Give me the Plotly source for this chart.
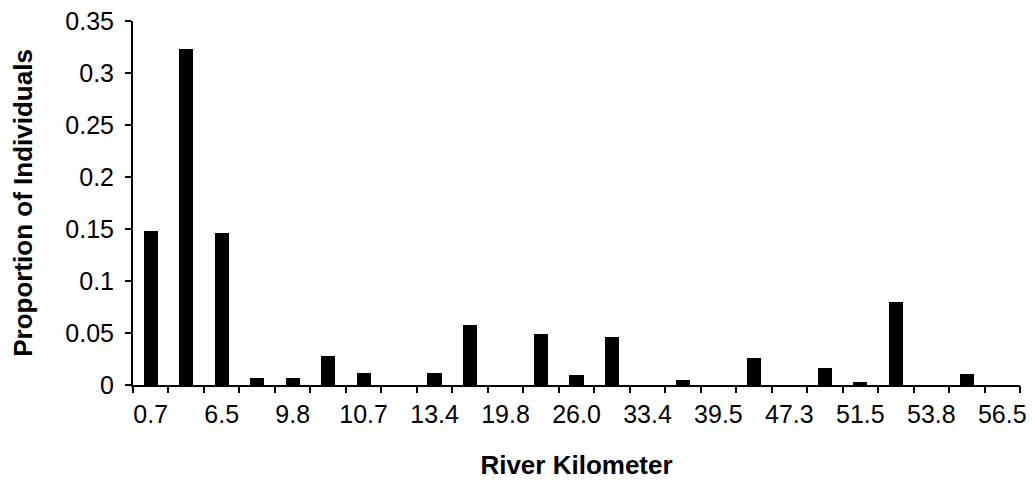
import plotly.graph_objects as go

# River kilometre labels (shown on every other bin) and proportion of individuals per bin
km_labels = ["0.7", "6.5", "9.8", "10.7", "13.4", "19.8", "26.0",
             "33.4", "39.5", "47.3", "51.5", "53.8", "56.5"]
proportions = [0.148, 0.323, 0.146, 0.007, 0.007, 0.028, 0.012, 0.0,
               0.012, 0.058, 0.0, 0.049, 0.010, 0.046, 0.0, 0.0045,
               0.0, 0.026, 0.0, 0.016, 0.0026, 0.080, 0.0, 0.011, 0.0]

n_bins = len(proportions)
positions = list(range(n_bins))
label_positions = positions[::2]
boundaries = [p - 0.5 for p in positions] + [n_bins - 0.5]

FONT = "Liberation Sans, Arial, sans-serif"

fig = go.Figure()
fig.add_trace(go.Bar(
    x=positions, y=proportions, width=0.4,
    marker=dict(color="black", line=dict(width=0)),
    showlegend=False, hoverinfo="x+y",
))
# invisible trace to activate the tick-mark axis
fig.add_trace(go.Scatter(x=[0], y=[0], xaxis="x2", mode="markers",
                         marker=dict(opacity=0), showlegend=False, hoverinfo="skip"))

x_range = [-0.5, n_bins - 0.5]
fig.update_layout(
    width=1035, height=480,
    margin=dict(l=133, r=15, t=21, b=95),
    plot_bgcolor="white", paper_bgcolor="white",
    font=dict(family=FONT, color="black", size=25),
    bargap=0,
    xaxis=dict(
        range=x_range, tickmode="array",
        tickvals=label_positions, ticktext=km_labels,
        ticks="", showgrid=False, zeroline=False, automargin=False,
        showline=True, linecolor="black", linewidth=2,
        tickfont=dict(size=25), ticklabelstandoff=6,
        title=dict(text="<b>River Kilometer</b>", font=dict(size=26), standoff=31),
    ),
    xaxis2=dict(
        range=x_range, overlaying="x", side="bottom", anchor="y",
        tickmode="array", tickvals=boundaries, showticklabels=False,
        ticks="outside", ticklen=7, tickwidth=2, tickcolor="black",
        showgrid=False, zeroline=False, showline=False, automargin=False,
    ),
    yaxis=dict(
        range=[0, 0.35], dtick=0.05, tick0=0,
        ticks="outside", ticklen=6, tickwidth=2, tickcolor="black",
        showgrid=False, zeroline=False, automargin=False,
        showline=True, linecolor="black", linewidth=2,
        tickfont=dict(size=25), ticklabelstandoff=6,
        title=dict(text="<b>Proportion of Individuals</b>", font=dict(size=26), standoff=25),
    ),
)

fig.write_html("out.html")
